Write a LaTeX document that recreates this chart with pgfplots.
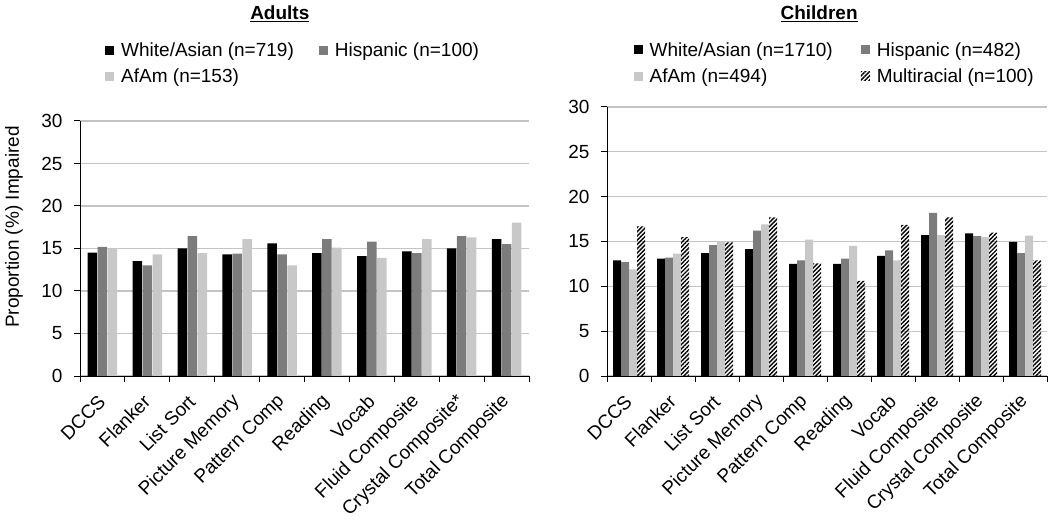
\documentclass[border=0pt]{standalone}
\usepackage{fontspec}
\setmainfont{Liberation Sans}
\usepackage{pgfplots}
\pgfplotsset{compat=1.18}
\usetikzlibrary{patterns.meta}
\definecolor{cgray}{HTML}{7C7C7C}
\definecolor{clight}{HTML}{C8C8C8}
\definecolor{cgrid}{HTML}{C4C4C4}
\newcommand\fs{\fontsize{19bp}{22bp}\selectfont}
\pgfplotsset{
  myaxis/.style={
    scale only axis,
    xmin=-0.5, xmax=9.5, ymin=0, ymax=30,
    ytick={0,5,...,30},
    xtick={0,...,9},
    minor xtick={-0.5,0.5,...,9.5},
    axis x line*=bottom, axis y line*=left,
    axis line style={black, line width=1bp},
    tick align=outside,
    major tick length=6bp, minor tick length=6bp,
    major x tick style={draw=none},
    minor x tick style={black, line width=1bp},
    y tick style={black, line width=1bp},
    ymajorgrids, grid style={color=cgrid, line width=1.2bp},
    tick label style={font=\fs},
    /pgf/number format/assume math mode=true,
    xticklabel style={xshift=2bp, yshift=-14bp, rotate=45, anchor=east},
    yticklabel style={xshift=-8bp},
    legend style={draw=none, fill=none, font=\fs, inner sep=0pt, row sep=9bp,
      nodes={inner xsep=7bp, inner ysep=1bp}},
    legend columns=2,
    legend cell align=left,
  },
  sqleg/.style={legend image code/.code={\path[##1,draw=none] (0bp,-4.5bp) rectangle (9bp,4.5bp);}},
}
\begin{document}
\begin{tikzpicture}
\begin{axis}[myaxis,
  at={(80bp,145bp)}, anchor=south west,
  width=449bp, height=255bp,
  ybar=0.5bp, bar width=9.5bp, sqleg,
  xticklabels={DCCS,Flanker,List Sort,Picture Memory,Pattern Comp,Reading,Vocab,Fluid Composite,Crystal Composite*,Total Composite},
  ylabel={Proportion (\%) Impaired},
  ylabel style={font=\fs, at={(axis description cs:-0.147,0.584)}, anchor=center},
  title={\underline{Adults}},
  title style={font=\fs\bfseries, at={(axis description cs:0.445,1.376)}, anchor=base},
  legend style={at={(axis description cs:0.0557,1.313)}, anchor=north west,
    /tikz/every even column/.append style={column sep=18bp}},
]
\addplot[draw=none, fill=black] coordinates {(0,14.5) (1,13.5) (2,15.0) (3,14.3) (4,15.6) (5,14.45) (6,14.1) (7,14.65) (8,15.0) (9,16.1)};
\addplot[draw=none, fill=cgray] coordinates {(0,15.2) (1,13.0) (2,16.45) (3,14.4) (4,14.3) (5,16.1) (6,15.8) (7,14.45) (8,16.45) (9,15.5)};
\addplot[draw=none, fill=clight] coordinates {(0,15.0) (1,14.3) (2,14.45) (3,16.1) (4,13.0) (5,15.1) (6,13.9) (7,16.1) (8,16.3) (9,18.05)};
\legend{White/Asian (n=719),Hispanic (n=100),AfAm (n=153)}
\end{axis}
\begin{axis}[myaxis,
  at={(607bp,145bp)}, anchor=south west,
  width=440bp, height=269bp,
  ybar=0bp, bar width=8bp, sqleg,
  xticklabels={DCCS,Flanker,List Sort,Picture Memory,Pattern Comp,Reading,Vocab,Fluid Composite,Crystal Composite,Total Composite},
  title={\underline{Children}},
  title style={font=\fs\bfseries, at={(axis description cs:0.482,1.304)}, anchor=base},
  legend style={at={(axis description cs:0.06,1.245)}, anchor=north west,
    /tikz/every even column/.append style={column sep=21bp}},
]
\addplot[draw=none, fill=black] coordinates {(0,12.9) (1,13.1) (2,13.7) (3,14.15) (4,12.5) (5,12.5) (6,13.4) (7,15.7) (8,15.9) (9,14.95)};
\addplot[draw=none, fill=cgray] coordinates {(0,12.7) (1,13.2) (2,14.6) (3,16.2) (4,12.9) (5,13.1) (6,14.0) (7,18.2) (8,15.6) (9,13.7)};
\addplot[draw=none, fill=clight] coordinates {(0,11.9) (1,13.65) (2,15.0) (3,16.9) (4,15.2) (5,14.5) (6,12.9) (7,15.7) (8,15.5) (9,15.65)};
\addplot[draw=none, fill=white, pattern={Lines[angle=45,distance=3bp,line width=1.4bp]}, pattern color=black] coordinates {(0,16.7) (1,15.5) (2,14.9) (3,17.7) (4,12.55) (5,10.6) (6,16.85) (7,17.7) (8,16.0) (9,12.9)};
\legend{White/Asian (n=1710),Hispanic (n=482),AfAm (n=494),Multiracial (n=100)}
\end{axis}
\pgfresetboundingbox
\path[use as bounding box] (0,0) rectangle (1050bp,521bp);
\end{tikzpicture}
\end{document}
